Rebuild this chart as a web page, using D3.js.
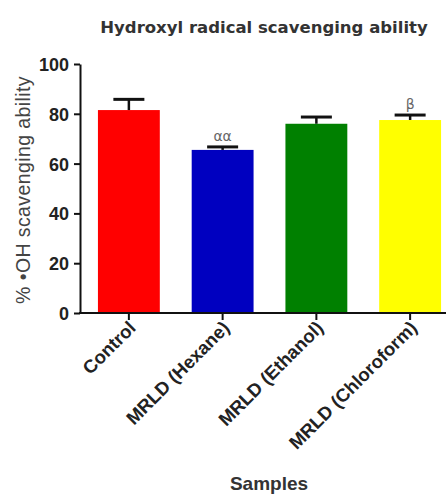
<!DOCTYPE html>
<html>
<head>
<meta charset="utf-8">
<script src="https://cdn.jsdelivr.net/npm/d3@7"></script>
<style>
  body { margin: 0; background: #fff; }
  svg { display: block; }
  .axis path, .axis line { stroke: #111; stroke-width: 2; }
  .axis text { font-family: "Liberation Sans", Arial, sans-serif; font-weight: bold; fill: #222; }
</style>
</head>
<body>
<script>
// values
var samples = ["Control", "MRLD (Hexane)", "MRLD (Ethanol)", "MRLD (Chloroform)"];
var means = [81.5, 65.5, 76, 77.5];
var errors = [4.3, 1.2, 2.7, 2.0];
var barColors = ["#ff0000", "#0000c0", "#008000", "#ffff00"];
var signif = ["", "αα", "", "β"];
var yTicks = [0, 20, 40, 60, 80, 100];

var width = 446, height = 495;

var svg = d3.select("body").append("svg")
    .attr("width", width)
    .attr("height", height);

var data = samples.map(function(s, i) {
    return { name: s, mean: means[i], err: errors[i], color: barColors[i], mark: signif[i] };
});

var x = d3.scaleBand()
    .domain(samples)
    .range([82, 457])
    .paddingInner(0.34)
    .paddingOuter(0.17);

var y = d3.scaleLinear()
    .domain([0, 100])
    .range([313, 64]);

// title
svg.append("text")
    .attr("x", 264)
    .attr("y", 33)
    .attr("text-anchor", "middle")
    .style("font-family", "'DejaVu Sans', Verdana, sans-serif")
    .style("font-weight", "bold")
    .style("font-size", "16.5px")
    .style("fill", "#333")
    .text("Hydroxyl radical scavenging ability");

// bars
svg.append("g")
    .selectAll("rect")
    .data(data)
    .enter()
    .append("rect")
    .attr("x", function(d) { return x(d.name); })
    .attr("y", function(d) { return y(d.mean); })
    .attr("width", x.bandwidth())
    .attr("height", function(d) { return y(0) - y(d.mean); })
    .attr("fill", function(d) { return d.color; });

// error bars (upper half only)
var eb = svg.append("g").attr("class", "errbars");
eb.selectAll(".stem")
    .data(data)
    .enter()
    .append("line")
    .attr("x1", function(d) { return x(d.name) + x.bandwidth() / 2; })
    .attr("x2", function(d) { return x(d.name) + x.bandwidth() / 2; })
    .attr("y1", function(d) { return y(d.mean); })
    .attr("y2", function(d) { return y(d.mean + d.err); })
    .attr("stroke", "#111")
    .attr("stroke-width", 2.5);
eb.selectAll(".cap")
    .data(data)
    .enter()
    .append("line")
    .attr("x1", function(d) { return x(d.name) + x.bandwidth() / 2 - 15.5; })
    .attr("x2", function(d) { return x(d.name) + x.bandwidth() / 2 + 15.5; })
    .attr("y1", function(d) { return y(d.mean + d.err); })
    .attr("y2", function(d) { return y(d.mean + d.err); })
    .attr("stroke", "#111")
    .attr("stroke-width", 3);

// significance marks
svg.append("g")
    .selectAll("text")
    .data(data)
    .enter()
    .append("text")
    .attr("x", function(d) { return x(d.name) + x.bandwidth() / 2; })
    .attr("y", function(d) { return y(d.mean + d.err) - 6; })
    .attr("text-anchor", "middle")
    .style("font-family", "'DejaVu Sans', sans-serif")
    .style("font-size", "14px")
    .style("fill", "#666")
    .text(function(d) { return d.mark; });

// y axis
svg.append("g")
    .attr("class", "axis y-axis")
    .attr("transform", "translate(80,0)")
    .call(d3.axisLeft(y).tickValues(yTicks).tickSize(6).tickPadding(5).tickSizeOuter(0))
    .selectAll("text")
    .attr("dy", "0.36em")
    .style("font-size", "18px");

// x axis
var xg = svg.append("g")
    .attr("class", "axis x-axis")
    .attr("transform", "translate(0,313)")
    .call(d3.axisBottom(x).tickSize(7).tickSizeOuter(0));
xg.select(".domain").attr("d", "M79,0H446");
xg.selectAll("text")
    .attr("text-anchor", "end")
    .attr("dy", null)
    .attr("transform", "translate(8,16) rotate(-45)")
    .attr("y", 0)
    .attr("x", 0)
    .style("font-size", "18.5px");

// axis titles
svg.append("text")
    .attr("transform", "translate(30,190) rotate(-90)")
    .attr("text-anchor", "middle")
    .style("font-family", "'Liberation Sans', Arial, sans-serif")
    .style("font-size", "19.5px")
    .style("letter-spacing", "0.4px")
    .style("fill", "#444")
    .text("% \u2022OH scavenging ability");

svg.append("text")
    .attr("x", 269)
    .attr("y", 490)
    .attr("text-anchor", "middle")
    .style("font-family", "'Liberation Sans', Arial, sans-serif")
    .style("font-weight", "bold")
    .style("font-size", "19px")
    .style("fill", "#333")
    .text("Samples");
</script>
</body>
</html>
